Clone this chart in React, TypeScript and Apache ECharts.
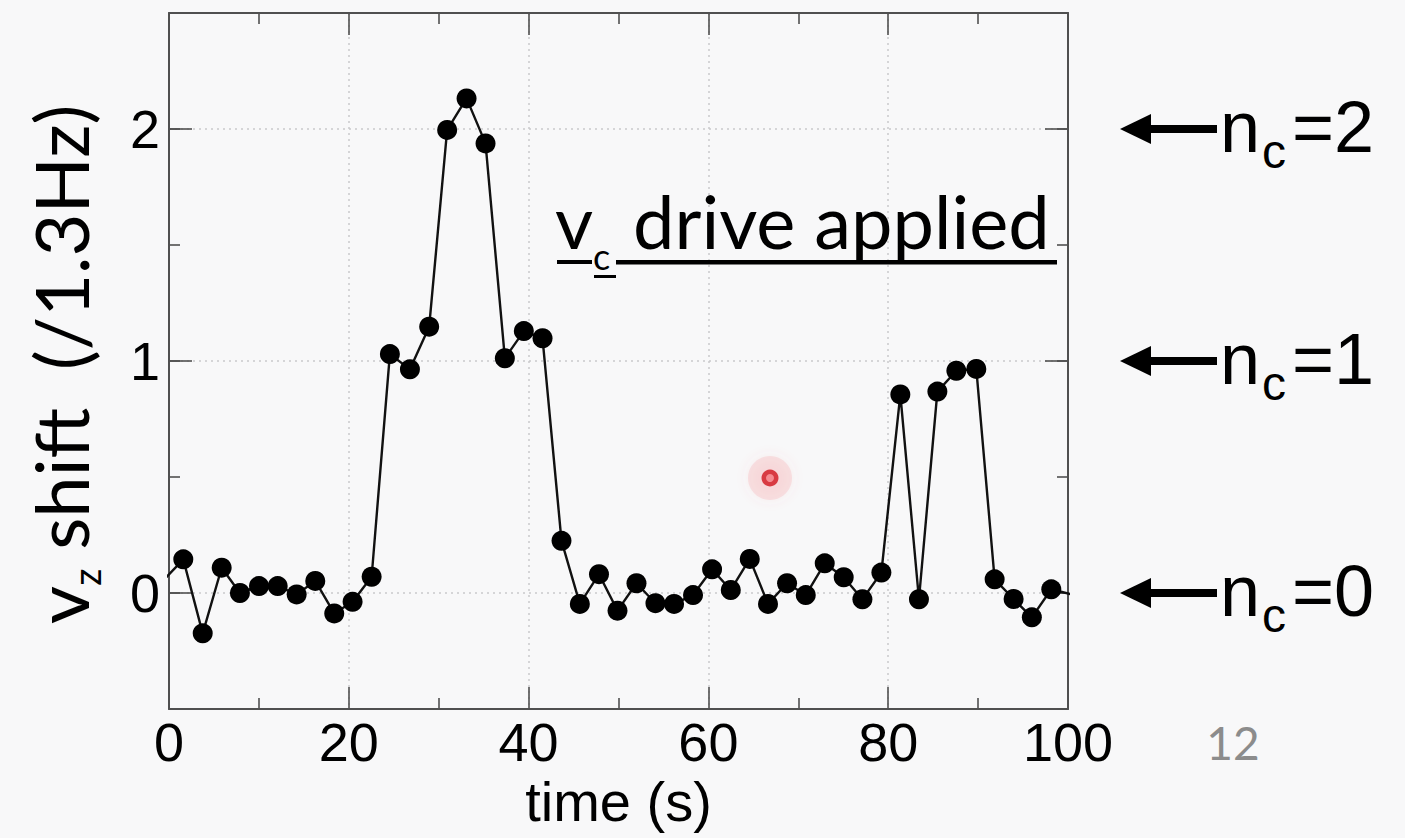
import React, { useEffect, useRef } from "react";
import * as echarts from "echarts";

// ---- data ----
const timeS = [
  -0.5, 1.59, 3.75, 5.86, 7.89, 10.01, 12.09, 14.2, 16.27, 18.38, 20.42, 22.54,
  24.57, 26.8, 28.94, 30.94, 33.1, 35.21, 37.36, 39.47, 41.55, 43.66, 45.7,
  47.83, 49.89, 52.0, 54.11, 56.18, 58.29, 60.41, 62.49, 64.6, 66.63, 68.75,
  70.83, 72.94, 75.05, 77.13, 79.24, 81.35, 83.42, 85.47, 87.58, 89.8, 91.84,
  93.95, 95.98, 98.14, 100.3,
];
const vzShift = [
  0.06, 0.145, -0.174, 0.109, 0.0, 0.03, 0.03, -0.006, 0.052, -0.088, -0.038,
  0.07, 1.03, 0.964, 1.148, 1.996, 2.132, 1.938, 1.012, 1.129, 1.098, 0.225,
  -0.047, 0.081, -0.076, 0.042, -0.044, -0.047, -0.009, 0.102, 0.013, 0.147,
  -0.047, 0.042, -0.009, 0.128, 0.068, -0.027, 0.088, 0.856, -0.027, 0.868,
  0.958, 0.966, 0.059, -0.026, -0.105, 0.016, -0.005,
];
const majorY = [0, 1, 2];
const levelDigits = ["0", "1", "2"];
const xName = "time (s)";
const yNameMain = "v";
const yNameSub = "z";
const yNameRest = " shift  (/1.3Hz)";
const driveMain = "v";
const driveSub = "c";
const driveRest = "drive applied";
const levelPrefix = "n";
const levelSub = "c";
const slideNumber = "12";

const AX = "#505050";
const TICKFONT = "'Liberation Sans', Arial, sans-serif";
const HUMAN = "Lato, 'Open Sans', sans-serif";

export default function App() {
  const ref = useRef<HTMLDivElement>(null);
  useEffect(() => {
    const chart = echarts.init(ref.current!, null, { renderer: "svg" });
    const lineStyle = { color: AX, width: 2 };
    const tickStyle = { color: AX, width: 1.6 };
    const gridDots = { type: [2, 4], color: "#c9c9cc", width: 1.5 };
    const option: any = {
      animation: false,
      backgroundColor: "#f8f8f9",
      grid: { left: 169, top: 13, width: 899, height: 696, containLabel: false, outerBoundsMode: "none" },
      xAxis: [
        {
          type: "value",
          position: "bottom",
          min: 0,
          max: 100,
          interval: 20,
          axisLine: { show: true, onZero: false, lineStyle },
          axisTick: { show: true, inside: true, length: 22, lineStyle: tickStyle },
          minorTick: { show: true, splitNumber: 2, length: 11, lineStyle: tickStyle },
          axisLabel: { fontSize: 54, fontFamily: TICKFONT, color: "#000", margin: 6 },
          splitLine: { show: true, lineStyle: gridDots },
          name: xName,
          nameLocation: "middle",
          nameGap: 50,
          nameTextStyle: { fontSize: 56, fontFamily: TICKFONT, color: "#000", verticalAlign: "top" },
        },
        {
          type: "value",
          position: "top",
          min: 0,
          max: 100,
          interval: 20,
          axisLine: { show: true, onZero: false, lineStyle },
          axisTick: { show: true, inside: true, length: 22, lineStyle: tickStyle },
          minorTick: { show: true, splitNumber: 2, length: 11, lineStyle: tickStyle },
          axisLabel: { show: false },
          splitLine: { show: false },
        },
      ],
      yAxis: [
        {
          type: "value",
          position: "left",
          min: -0.5,
          max: 2.5,
          interval: 0.5,
          axisLine: { show: true, onZero: false, lineStyle },
          axisTick: { show: true, inside: true, length: 11, lineStyle: tickStyle },
          axisLabel: {
            fontSize: 54,
            fontFamily: TICKFONT,
            color: "#000",
            margin: 9,
            formatter: (v: number) => {
              const i = majorY.indexOf(v);
              return i >= 0 ? levelDigits[i] : "";
            },
          },
          splitLine: { show: false },
        },
        {
          type: "value",
          position: "left",
          min: -0.5,
          max: 2.5,
          axisLine: { show: false, onZero: false },
          axisTick: { show: true, inside: true, length: 23, customValues: majorY, lineStyle: tickStyle },
          axisLabel: { show: false, customValues: majorY },
          splitLine: { show: true, lineStyle: gridDots },
        },
        {
          type: "value",
          position: "right",
          min: -0.5,
          max: 2.5,
          interval: 0.5,
          axisLine: { show: true, onZero: false, lineStyle },
          axisTick: { show: true, inside: true, length: 11, lineStyle: tickStyle },
          axisLabel: { show: false },
          splitLine: { show: false },
        },
        {
          type: "value",
          position: "right",
          min: -0.5,
          max: 2.5,
          axisLine: { show: false, onZero: false },
          axisTick: { show: true, inside: true, length: 23, customValues: majorY, lineStyle: tickStyle },
          axisLabel: { show: false, customValues: majorY },
          splitLine: { show: false },
        },
      ],
      series: [
        {
          type: "line",
          xAxisIndex: 0,
          yAxisIndex: 0,
          clip: true,
          data: timeS.map((t, i) => [t, vzShift[i]]),
          symbol: "circle",
          symbolSize: 20,
          showSymbol: true,
          itemStyle: { color: "#000" },
          lineStyle: { color: "#111", width: 2.4 },
        },
      ],
    };
    chart.setOption(option);

    const yPix = (v: number) => chart.convertToPixel({ yAxisIndex: 0 }, v) as number;
    const g: any[] = [];

    // y-axis name (rotated)
    g.push({
      type: "text",
      x: 60,
      y: 624,
      rotation: Math.PI / 2,
      style: {
        text: `{m|${yNameMain}}{s|${yNameSub}}{m|${yNameRest}}`,
        align: "left",
        verticalAlign: "middle",
        rich: {
          m: { fontSize: 74, fontFamily: HUMAN, lineHeight: 90, verticalAlign: "middle", fill: "#000" },
          s: { fontSize: 38, fontFamily: HUMAN, lineHeight: 38, verticalAlign: "bottom", fill: "#000" },
        },
      },
    });

    // "v_c drive applied" annotation
    g.push({ type: "text", x: 555, y: 220, style: { text: driveMain, fontSize: 74, fontFamily: HUMAN, fill: "#000", align: "left", verticalAlign: "middle" } });
    g.push({ type: "text", x: 593, y: 256, style: { text: driveSub, fontSize: 36, fontFamily: HUMAN, fill: "#000", align: "left", verticalAlign: "middle" } });
    g.push({ type: "text", x: 633, y: 220, style: { text: driveRest, fontSize: 74, fontFamily: HUMAN, fill: "#000", align: "left", verticalAlign: "middle" } });
    g.push({ type: "rect", shape: { x: 557, y: 260, width: 35, height: 4 }, style: { fill: "#000" } });
    g.push({ type: "rect", shape: { x: 594, y: 275, width: 22, height: 3 }, style: { fill: "#000" } });
    g.push({ type: "rect", shape: { x: 616, y: 260, width: 441, height: 4.5 }, style: { fill: "#000" } });

    // level arrows
    majorY.forEach((lv, i) => {
      const y = yPix(lv);
      g.push({ type: "polygon", shape: { points: [[1120, y], [1151, y - 15], [1151, y + 15]] }, style: { fill: "#000" } });
      g.push({ type: "rect", shape: { x: 1148, y: y - 4, width: 69, height: 8 }, style: { fill: "#000" } });
      g.push({ type: "text", x: 1220, y: y - 2, style: { text: levelPrefix, fontSize: 72, fontFamily: TICKFONT, fill: "#000", align: "left", verticalAlign: "middle" } });
      g.push({ type: "text", x: 1262, y: y + 22, style: { text: levelSub, fontSize: 48, fontFamily: TICKFONT, fill: "#000", align: "left", verticalAlign: "middle" } });
      g.push({ type: "text", x: 1292, y: y - 2, style: { text: "=" + levelDigits[i], fontSize: 72, fontFamily: TICKFONT, fill: "#000", align: "left", verticalAlign: "middle" } });
    });

    // slide number
    g.push({ type: "text", x: 1233, y: 742, style: { text: slideNumber, fontSize: 46, fontFamily: HUMAN, fill: "#8c8c8c", align: "center", verticalAlign: "middle" } });

    // pointer highlight
    g.push({ type: "circle", shape: { cx: 770, cy: 478, r: 22 }, style: { fill: "rgba(242,120,130,0.18)", shadowBlur: 14, shadowColor: "rgba(240,100,110,0.45)" } });
    g.push({ type: "circle", shape: { cx: 770, cy: 478, r: 8.5 }, style: { fill: "#d83a42" } });
    g.push({ type: "circle", shape: { cx: 770, cy: 478, r: 4 }, style: { fill: "#f58a90" } });

    chart.setOption({ graphic: g });
    return () => chart.dispose();
  }, []);
  return <div ref={ref} style={{ position: "fixed", left: 0, top: 0, width: 1405, height: 838 }} />;
}
